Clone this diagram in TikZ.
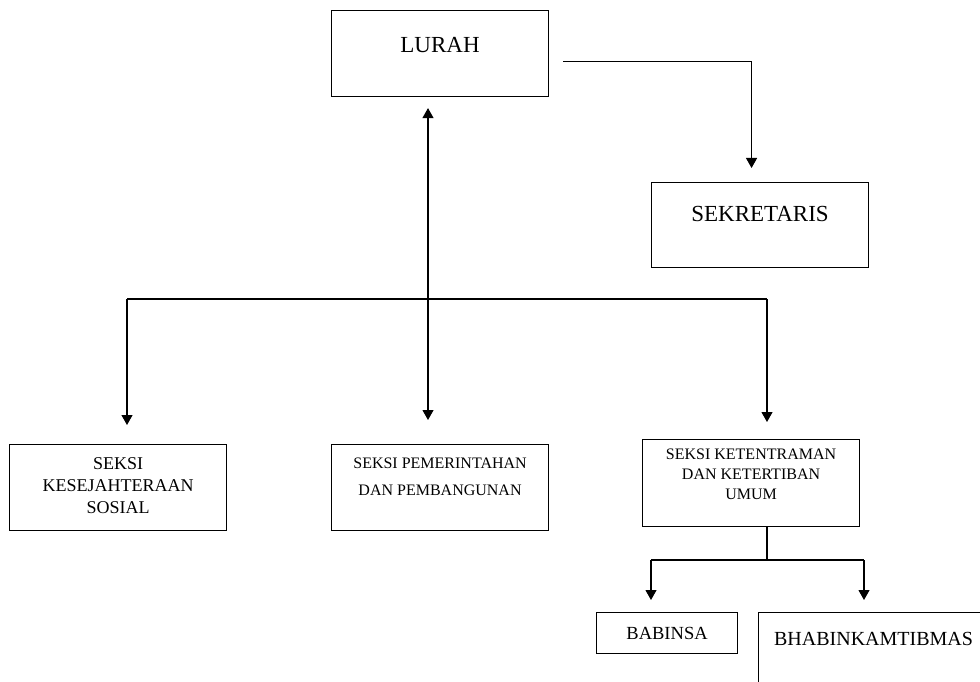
\documentclass[tikz,border=0pt]{standalone}
\usepackage{fontspec}
\setmainfont{Liberation Serif}
\usepackage{tikz}
\usetikzlibrary{positioning, arrows.meta}
% extra depth below the last line, so the text sits higher in its box
\newcommand{\textlift}[1]{\rule[-#1]{0pt}{#1}}

\begin{document}
\begin{tikzpicture}[
    x=1pt, y=-1pt,
    % Node styles
    box/.style={draw, line width=1.1pt, align=center, inner sep=0pt, anchor=north west},
    bigbox/.style={box, font=\fontsize{23}{27}\selectfont},
    unit/.style={box, font=\fontsize{16}{20}\selectfont},
    % Edge styles
    link/.style={draw, line width=1.1pt},
    >={Triangle[width=11pt,length=10pt]}
]

\clip (0,0) rectangle (980,682);

% Level 0 - Lurah
\node[bigbox, minimum width=217, minimum height=86] (lurah) at (331,10) {LURAH\textlift{18pt}};

% Level 1 - Sekretaris
\node[bigbox, minimum width=217, minimum height=85] (sekretaris) at (651,182) {SEKRETARIS\textlift{22pt}};

% Level 2 - Seksi
\node[unit, minimum width=217, minimum height=86, font=\fontsize{18}{22}\selectfont] (kesejahteraan) at (9,444)
    {SEKSI\\KESEJAHTERAAN\\SOSIAL\textlift{4pt}};
\node[unit, minimum width=217, minimum height=86, font=\fontsize{16}{26.5}\selectfont] (pemerintahan) at (331,444)
    {SEKSI PEMERINTAHAN\\DAN PEMBANGUNAN\textlift{22pt}};
\node[unit, minimum width=217, minimum height=87] (ketentraman) at (642,439)
    {SEKSI KETENTRAMAN\\DAN KETERTIBAN\\UMUM\textlift{18pt}};

% Level 3 - From Seksi Ketentraman
\node[box, minimum width=141, minimum height=41, font=\fontsize{18.5}{22}\selectfont] (babinsa) at (596,612) {BABINSA};
\node[box, minimum width=230, minimum height=86, font=\fontsize{20}{24}\selectfont] (bhabinkamtibmas) at (758,612) {BHABINKAMTIBMAS\textlift{34pt}};

% Branch points
\coordinate (busL) at (127,299);
\coordinate (busM) at (428,299);
\coordinate (busR) at (767,299);
\coordinate (subL) at (651,560);
\coordinate (subM) at (767,560);
\coordinate (subR) at (864,560);

% Draw all edges
\draw[link, ->] ([shift={(14pt,-8pt)}]lurah.east) -| ([xshift=-8.5pt,yshift=14pt]sekretaris.north);

\draw[link, <->, shorten <=11pt, shorten >=24pt] (lurah.south -| busM) -- (busM |- pemerintahan.north);

\draw[link] (busL) -- (busR);
\draw[link, ->, shorten >=19pt] (busL) -- (busL |- kesejahteraan.north);
\draw[link, ->, shorten >=17pt] (busR) -- (busR |- ketentraman.north);

\draw[link] (ketentraman.south -| subM) -- (subM);
\draw[link] (subL) -- (subR);
\draw[link, ->, shorten >=12pt] (subL) -- (subL |- babinsa.north);
\draw[link, ->, shorten >=12pt] (subR) -- (subR |- bhabinkamtibmas.north);

\end{tikzpicture}
\end{document}
